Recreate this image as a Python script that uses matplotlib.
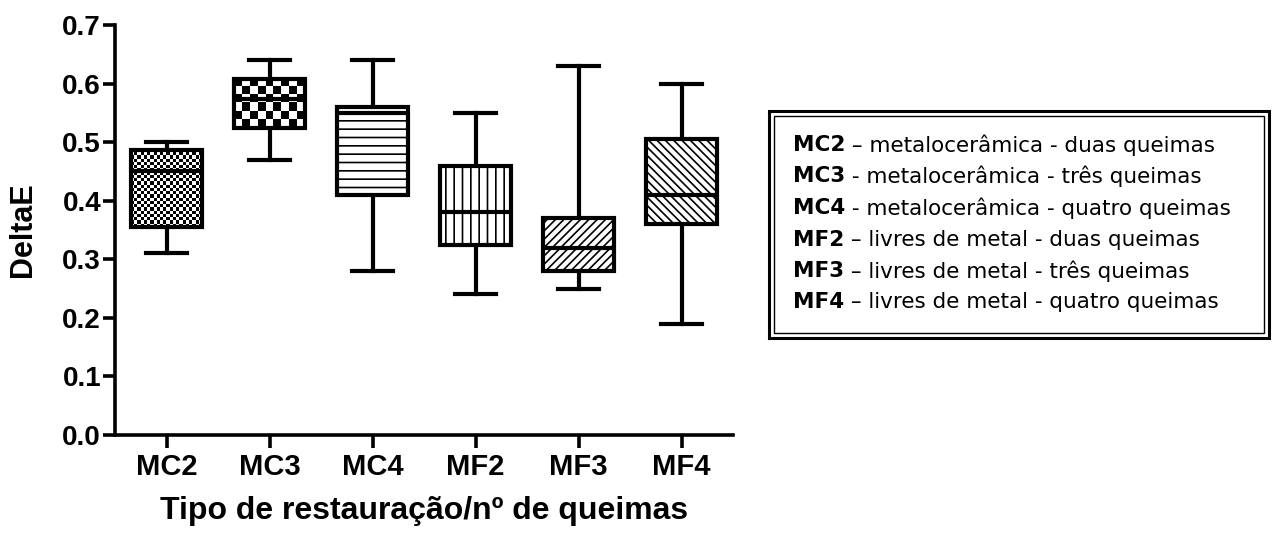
import numpy as np
import matplotlib.pyplot as plt
from matplotlib.patches import Rectangle

# box statistics
groups = ['MC2', 'MC3', 'MC4', 'MF2', 'MF3', 'MF4']
whis_low = [0.31, 0.47, 0.28, 0.24, 0.25, 0.19]
q1 = [0.355, 0.525, 0.41, 0.325, 0.28, 0.36]
median = [0.45, 0.573, 0.55, 0.38, 0.32, 0.41]
q3 = [0.487, 0.607, 0.56, 0.46, 0.37, 0.505]
whis_high = [0.50, 0.64, 0.64, 0.55, 0.63, 0.60]

legend_names = ['MC2', 'MC3', 'MC4', 'MF2', 'MF3', 'MF4']
legend_texts = [' – metalocerâmica - duas queimas',
                ' - metalocerâmica - três queimas',
                ' - metalocerâmica - quatro queimas',
                ' – livres de metal - duas queimas',
                ' – livres de metal - três queimas',
                ' – livres de metal - quatro queimas']

hatches = [None, None, '--', '||', '////', '\\\\\\\\']
checker_cells = [3.2, 8, None, None, None, None]  # checker square size in px

plt.rcParams['font.family'] = ['Liberation Sans', 'DejaVu Sans']
plt.rcParams['hatch.linewidth'] = 1.2

W, H = 1272, 533
fig = plt.figure(figsize=(W / 100, H / 100), dpi=100)
ax = fig.add_axes([115 / W, (H - 435) / H, 618 / W, 410 / H])

stats = []
for i, g in enumerate(groups):
    stats.append(dict(label=g, whislo=whis_low[i], q1=q1[i], med=median[i],
                      q3=q3[i], whishi=whis_high[i], fliers=[]))

lw = 3.0
pos = np.arange(1, len(groups) + 1)
box_w = 0.68
bp = ax.bxp(stats, positions=pos, widths=box_w, capwidths=0.4,
            patch_artist=True, showfliers=False,
            boxprops=dict(linewidth=lw, edgecolor='black', facecolor='white'),
            whiskerprops=dict(linewidth=lw, color='black'),
            capprops=dict(linewidth=lw, color='black'),
            medianprops=dict(linewidth=lw, color='black'))

px_per_x = 618 / 6
px_per_y = 410 / 0.7
for i, patch in enumerate(bp['boxes']):
    patch.set_zorder(3)
    if hatches[i]:
        patch.set_hatch(hatches[i])
    if checker_cells[i]:
        patch.set_facecolor('none')
        cols = max(1, int(round(box_w * px_per_x / checker_cells[i])))
        rows = max(1, int(round((q3[i] - q1[i]) * px_per_y / checker_cells[i])))
        board = np.indices((rows, cols)).sum(axis=0) % 2
        ax.imshow(board, cmap='gray', vmin=0, vmax=1, aspect='auto',
                  interpolation='nearest', zorder=2,
                  extent=(pos[i] - box_w / 2, pos[i] + box_w / 2, q1[i], q3[i]))
for m in bp['medians']:
    m.set_zorder(4)

ax.set_xlim(0.5, 6.5)
ax.set_ylim(0, 0.7)
ax.set_yticks(np.arange(0, 0.71, 0.1))
ax.set_yticklabels(['%.1f' % v for v in np.arange(0, 0.71, 0.1)])
ax.set_xticks(pos)
ax.set_xticklabels(groups)
for s in ['top', 'right']:
    ax.spines[s].set_visible(False)
for s in ['left', 'bottom']:
    ax.spines[s].set_linewidth(2.6)
ax.tick_params(axis='both', length=9, width=2.6, labelsize=20, pad=1)
ax.tick_params(axis='x', labelsize=21, pad=4)
for t in ax.get_xticklabels() + ax.get_yticklabels():
    t.set_fontweight('bold')

ax.set_ylabel('DeltaE', fontsize=22, fontweight='bold')
ax.yaxis.set_label_coords(-0.124, 0.5)
ax.set_xlabel('Tipo de restauração/nº de queimas', fontsize=23,
              fontweight='bold')
ax.xaxis.set_label_coords(0.5, -0.15)

# legend box with double border
over = fig.add_axes([0, 0, 1, 1])
over.set_axis_off()
over.set_xlim(0, W)
over.set_ylim(H, 0)
over.add_patch(Rectangle((769, 111), 500, 227, fill=False, lw=2.2, ec='black'))
over.add_patch(Rectangle((774, 116), 490, 217, fill=False, lw=1.0, ec='black'))

y = 145
for name, txt in zip(legend_names, legend_texts):
    t = over.text(793, y, name, fontsize=15.5, fontweight='bold',
                  family='DejaVu Sans', va='center')
    over.annotate(txt, xy=(1, 0.5), xycoords=t, va='center', ha='left',
                  fontsize=15.5, family='DejaVu Sans')
    y += 31.5

fig.savefig('out.png', dpi=100)
